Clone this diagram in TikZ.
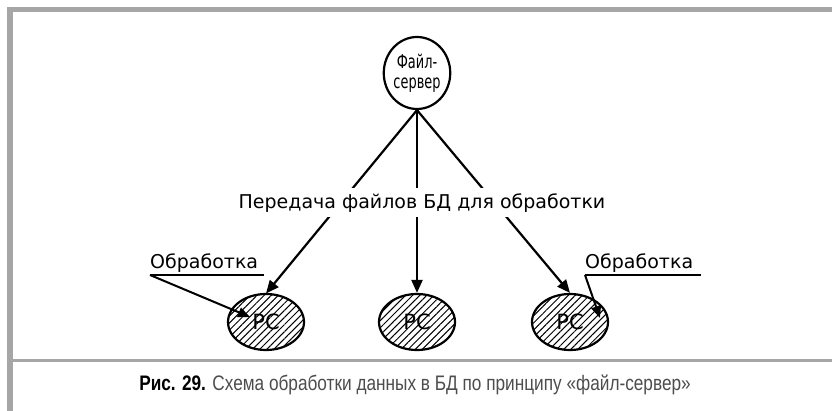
\documentclass[tikz,border=0pt]{standalone}
\usepackage{fontspec}
\setmainfont{DejaVu Sans}
\newfontfamily\capfont[FakeStretch=0.82]{Liberation Sans}
\newfontfamily\srvfont[FakeStretch=0.68]{DejaVu Sans}
\usetikzlibrary{shapes.geometric,arrows.meta,patterns.meta,calc}
\definecolor{framegray}{HTML}{A6A6A6}
\definecolor{capgray}{HTML}{4D4D4D}
\begin{document}
\begin{tikzpicture}[x=1pt,y=-1pt,
  conn/.style={line width=2.2pt,-{Triangle[length=13pt,width=11pt]}},
  callout/.style={line width=2pt,-{Triangle[length=12pt,width=10pt]}},
  pcnode/.style={ellipse,draw,line width=2.2pt,minimum width=76pt,minimum height=56pt,
    inner sep=0pt,pattern={Lines[angle=45,distance=5pt,line width=1pt]},
    font=\fontsize{21}{21}\selectfont},
  srvnode/.style={ellipse,draw,line width=2.2pt,minimum width=64pt,minimum height=72pt,
    inner sep=0pt,align=center,font=\srvfont\fontsize{19}{20}\selectfont},
  obtext/.style={font=\fontsize{19}{19}\selectfont,anchor=south west,inner xsep=0pt,inner ysep=2pt}]
\useasboundingbox (0,0) rectangle (832,411);
\fill[white] (0,0) rectangle (832,411);
% frame
\fill[framegray] (7,7) rectangle (832,12);
\fill[framegray] (7,7) rectangle (13,411);
\fill[framegray] (13,359) rectangle (832,361.5);
% nodes
\node[srvnode] (srv) at (417,73) {Файл-\\сервер};
\node[pcnode] (pc1) at (266,322) {PC};
\node[pcnode] (pc2) at (417,322) {PC};
\node[pcnode] (pc3) at (570,322) {PC};
% connectors
\draw[conn] (srv.south) -- (pc1.north);
\draw[conn] (srv.south) -- (pc2.north);
\draw[conn] (srv.south) -- (pc3.north);
\node[fill=white,inner xsep=2pt,inner ysep=0pt,minimum height=29pt,
  font=\fontsize{19}{19}\selectfont] (lbl) at (422,203) {Передача файлов БД для обработки};
% callouts
\node[obtext] (ob1) at (150,275) {Обработка};
\draw[line width=2pt] (ob1.south west) -- ([xshift=6pt]ob1.south east);
\draw[callout] (ob1.south west) -- ($(pc1.center)+(-16,-5)$);
\node[obtext] (ob2) at (585,275) {Обработка};
\draw[line width=2pt] (ob2.south west) -- ([xshift=8pt]ob2.south east);
\draw[callout] (ob2.south west) -- ($(pc3.center)+(30,-4)$);
% caption
\node[font=\capfont\fontsize{21}{21}\selectfont,text=capgray] (cap) at (415,385)
  {\textbf{\color{black}Рис. 29.} Схема обработки данных в БД по принципу «файл-сервер»};
\end{tikzpicture}
\end{document}
